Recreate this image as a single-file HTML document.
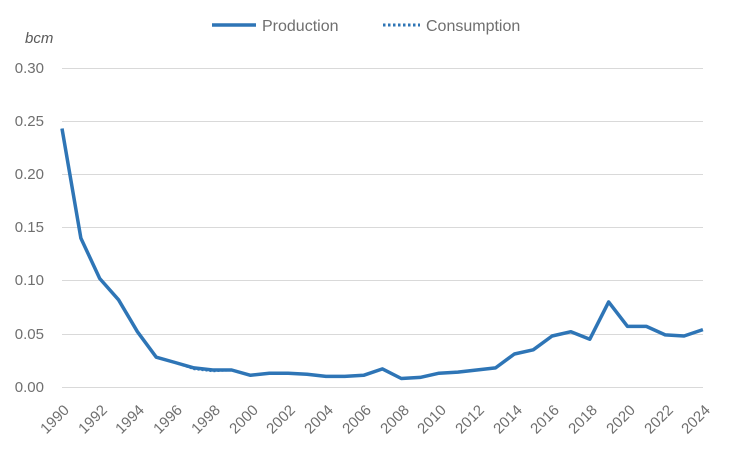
<!DOCTYPE html>
<html><head><meta charset="utf-8"><style>
body{margin:0;background:#fff;}
svg{display:block;font-family:"Liberation Sans",sans-serif;}
</style></head><body>
<svg width="735" height="455" viewBox="0 0 735 455">
<g stroke="#d9d9d9" stroke-width="1">
<line x1="62" x2="703" y1="68.5" y2="68.5"/>
<line x1="62" x2="703" y1="121.5" y2="121.5"/>
<line x1="62" x2="703" y1="174.5" y2="174.5"/>
<line x1="62" x2="703" y1="227.5" y2="227.5"/>
<line x1="62" x2="703" y1="280.5" y2="280.5"/>
<line x1="62" x2="703" y1="334.5" y2="334.5"/>
<line x1="62" x2="703" y1="387.5" y2="387.5"/>
</g>
<g fill="#6f6f6f" font-size="15" text-anchor="end">
<text x="44" y="73">0.30</text>
<text x="44" y="126">0.25</text>
<text x="44" y="179">0.20</text>
<text x="44" y="232">0.15</text>
<text x="44" y="285">0.10</text>
<text x="44" y="339">0.05</text>
<text x="44" y="392">0.00</text>
</g>
<text x="25" y="43" fill="#595959" font-size="15" font-style="italic">bcm</text>
<g fill="#6f6f6f" font-size="15" text-anchor="end">
<text transform="translate(70,411) rotate(-45)">1990</text>
<text transform="translate(108,411) rotate(-45)">1992</text>
<text transform="translate(145,411) rotate(-45)">1994</text>
<text transform="translate(183,411) rotate(-45)">1996</text>
<text transform="translate(221,411) rotate(-45)">1998</text>
<text transform="translate(259,411) rotate(-45)">2000</text>
<text transform="translate(296,411) rotate(-45)">2002</text>
<text transform="translate(334,411) rotate(-45)">2004</text>
<text transform="translate(372,411) rotate(-45)">2006</text>
<text transform="translate(410,411) rotate(-45)">2008</text>
<text transform="translate(447,411) rotate(-45)">2010</text>
<text transform="translate(485,411) rotate(-45)">2012</text>
<text transform="translate(523,411) rotate(-45)">2014</text>
<text transform="translate(560,411) rotate(-45)">2016</text>
<text transform="translate(598,411) rotate(-45)">2018</text>
<text transform="translate(636,411) rotate(-45)">2020</text>
<text transform="translate(674,411) rotate(-45)">2022</text>
<text transform="translate(711,411) rotate(-45)">2024</text>
</g>
<polyline fill="none" stroke="#2e75b6" stroke-width="2.5" stroke-dasharray="2,2" points="62,128.6 80.85,238.1 99.7,278.5 118.55,299.8 137.4,331.7 156.25,357.2 175.1,362.5 193.95,368.9 212.8,371 231.65,370 250.5,375.3 269.35,373.2 288.2,373.2 307.05,374.2 325.9,376.4 344.75,376.4 363.6,375.3 382.45,368.9 401.3,378.5 420.15,377.4 439,373.2 457.85,372.1 476.7,370 495.55,367.9 514.4,354 533.25,349.8 552.1,336 570.95,331.7 589.8,339.2 608.65,301.9 627.5,326.4 646.35,326.4 665.2,334.9 684.05,336 702.9,329.6"/>
<polyline fill="none" stroke="#2e75b6" stroke-width="3.5" stroke-linejoin="round" points="62,128.6 80.85,238.1 99.7,278.5 118.55,299.8 137.4,331.7 156.25,357.2 175.1,362.5 193.95,367.9 212.8,370 231.65,370 250.5,375.3 269.35,373.2 288.2,373.2 307.05,374.2 325.9,376.4 344.75,376.4 363.6,375.3 382.45,368.9 401.3,378.5 420.15,377.4 439,373.2 457.85,372.1 476.7,370 495.55,367.9 514.4,354 533.25,349.8 552.1,336 570.95,331.7 589.8,339.2 608.65,301.9 627.5,326.4 646.35,326.4 665.2,334.9 684.05,336 702.9,329.6"/>
<line x1="212" x2="256" y1="25" y2="25" stroke="#2e75b6" stroke-width="3.5"/>
<text x="262" y="31" fill="#6f6f6f" font-size="16">Production</text>
<line x1="383" x2="420" y1="25" y2="25" stroke="#2e75b6" stroke-width="3" stroke-dasharray="2.5,2.5"/>
<text x="426" y="31" fill="#6f6f6f" font-size="16">Consumption</text>
</svg>
</body></html>
